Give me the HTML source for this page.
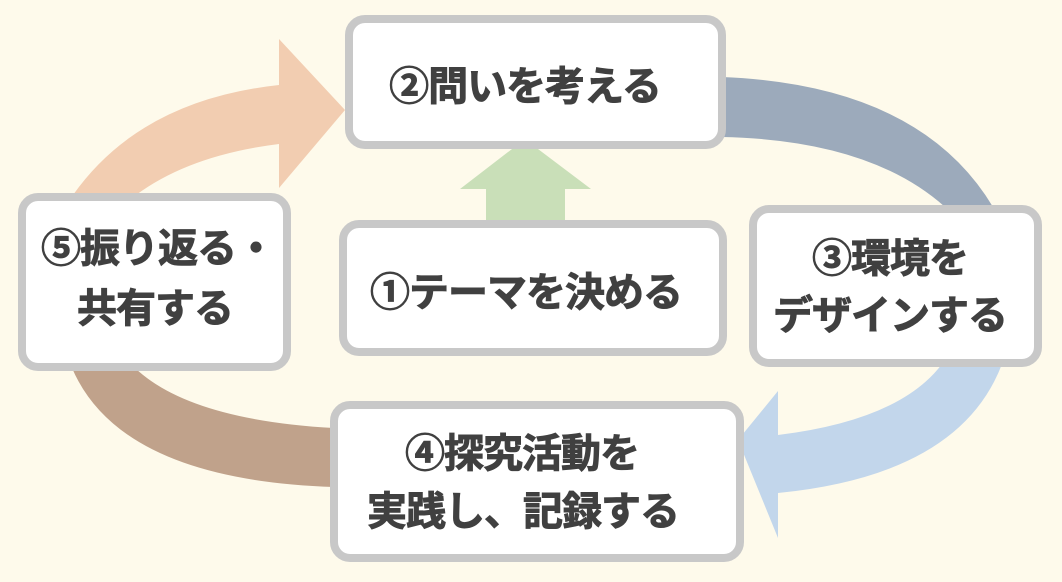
<!DOCTYPE html>
<html><head><meta charset="utf-8"><style>
html,body{margin:0;padding:0;background:#fefaeb;}
svg{display:block}
text{font-family:"Noto Sans CJK JP","Liberation Sans",sans-serif;font-weight:bold;fill:#404040;stroke:#404040;stroke-width:0.9;font-size:40px;text-anchor:middle;dominant-baseline:central;letter-spacing:-1px}
</style></head><body>
<svg width="1062" height="582" viewBox="0 0 1062 582" xmlns="http://www.w3.org/2000/svg">
<rect width="1062" height="582" fill="#fefaeb"/>
<path d="M73,195 Q140,100 279,85 L279,39 L345,110 L279,188 L279,144 Q190,155 136,195 Z" fill="#f2cdb1"/>
<path d="M722,77 Q920,85 993,207 L945,207 Q870,140 722,137 Z" fill="#9caabb"/>
<path d="M1002,364 Q960,475 778,493 L778,538 L738,440 L778,391 L778,435 Q900,420 942,364 Z" fill="#c2d6eb"/>
<path d="M72,368 Q120,480 334,487 L334,428 Q190,420 135,368 Z" fill="#c0a28b"/>
<path d="M512,149 L538,149 L591,189 L565,189 L565,222 L486,222 L486,189 L460,189 Z" fill="#c9dfb8"/>
<g fill="#fff" stroke="#c8c8c8" stroke-width="8">
<rect x="349" y="19" width="373" height="126" rx="16"/>
<rect x="22" y="197" width="265" height="170" rx="16"/>
<rect x="343" y="224" width="380" height="128" rx="16"/>
<rect x="753" y="209" width="285" height="154" rx="16"/>
<rect x="334" y="405" width="406" height="153" rx="16"/>
</g>
<text x="525" y="83">②問いを考える</text>
<text x="526" y="289">①テーマを決める</text>
<text x="158" y="245">⑤振り返る・</text>
<text x="155" y="305">共有する</text>
<text x="890" y="255">③環境を</text>
<text x="890" y="312">デザインする</text>
<text x="522" y="450">④探究活動を</text>
<text x="523" y="508">実践し、記録する</text>
</svg>
</body></html>
